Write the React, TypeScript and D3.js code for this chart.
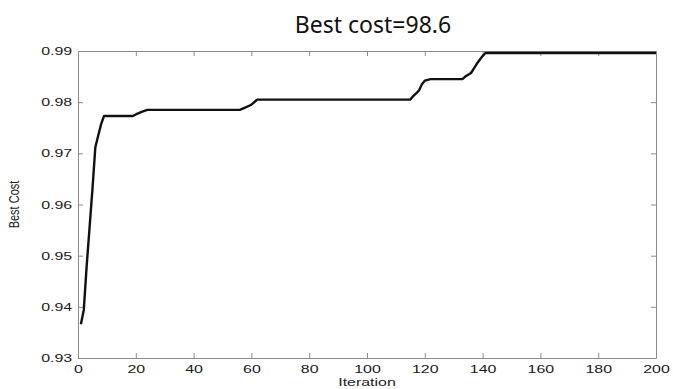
import React, { useEffect, useRef } from 'react';
import * as d3 from 'd3';

// values (iteration, best cost)
const iterations = [1, 2, 3, 4, 5, 6, 7, 8, 9, 19, 20, 22, 24, 56, 58, 60, 62, 115, 116, 117, 118, 119, 120, 122, 133, 134, 136, 137, 138, 139, 140, 141, 200];
const bestCost = [0.9366, 0.9394, 0.948, 0.9555, 0.963, 0.9712, 0.9735, 0.9757, 0.9773, 0.9773, 0.9776, 0.9781, 0.9785, 0.9785, 0.979, 0.9795, 0.9805, 0.9805, 0.9812, 0.9817, 0.9823, 0.9835, 0.9842, 0.9845, 0.9845, 0.985, 0.9857, 0.9866, 0.9875, 0.9883, 0.989, 0.9896, 0.9896];
const xTicks = [0, 20, 40, 60, 80, 100, 120, 140, 160, 180, 200];
const yTicks = [0.93, 0.94, 0.95, 0.96, 0.97, 0.98, 0.99];
const title = 'Best cost=98.6';
const xLabel = 'Iteration';
const yLabel = 'Best Cost';

const W = 673, H = 389;
const margin = { top: 51, right: 17, bottom: 31, left: 78 };
const stretch = 1.45;

export default function App() {
  const ref = useRef<SVGSVGElement>(null);

  useEffect(() => {
    const svg = d3.select(ref.current);
    svg.selectAll('*').remove();
    const w = W - margin.left - margin.right;
    const h = H - margin.top - margin.bottom;

    const x = d3.scaleLinear().domain([0, 200]).range([0, w]);
    const y = d3.scaleLinear().domain([0.93, 0.99]).range([h, 0]);

    svg.append('text')
      .attr('x', 373)
      .attr('y', 33)
      .attr('text-anchor', 'middle')
      .style('font-family', '"Noto Sans", "Open Sans", sans-serif')
      .style('font-size', '23px')
      .attr('fill', '#111')
      .text(title);

    const g = svg.append('g').attr('transform', `translate(${margin.left},${margin.top})`);

    const axisColor = '#8a8a8a';
    const styleAxis = (sel: any) => {
      sel.selectAll('.domain').attr('stroke', axisColor);
      sel.selectAll('.tick line').attr('stroke', axisColor);
      sel.selectAll('text')
        .attr('fill', '#1a1a1a')
        .style('font-family', '"Liberation Sans", Arial, sans-serif')
        .style('font-size', '11px')
        .attr('transform', `scale(${stretch},1)`);
    };

    g.append('g').attr('transform', `translate(0,${h})`)
      .call(d3.axisBottom(x).tickValues(xTicks).tickSizeInner(-5).tickSizeOuter(0).tickPadding(7))
      .call(styleAxis);
    g.append('g')
      .call(d3.axisLeft(y).tickValues(yTicks).tickFormat(d3.format('.2f')).tickSizeInner(-5).tickSizeOuter(0).tickPadding(4))
      .call(styleAxis);
    g.append('g')
      .call(d3.axisTop(x).tickValues(xTicks).tickSizeInner(-5).tickSizeOuter(0).tickFormat(() => ''))
      .call(styleAxis);
    g.append('g').attr('transform', `translate(${w},0)`)
      .call(d3.axisRight(y).tickValues(yTicks).tickSizeInner(-5).tickSizeOuter(0).tickFormat(() => ''))
      .call(styleAxis);

    const line = d3.line<number>()
      .x((_, i) => x(iterations[i]))
      .y((d) => y(d));

    g.append('path')
      .datum(bestCost)
      .attr('d', line)
      .attr('fill', 'none')
      .attr('stroke', '#111')
      .attr('stroke-width', 2.4)
      .attr('stroke-linejoin', 'round');

    svg.append('text')
      .attr('transform', `translate(${margin.left + w / 2},386) scale(${stretch},1)`)
      .attr('text-anchor', 'middle')
      .style('font-family', '"Liberation Sans", Arial, sans-serif')
      .style('font-size', '11px')
      .attr('fill', '#222')
      .text(xLabel);

    svg.append('text')
      .attr('transform', `translate(19,${margin.top + h / 2}) scale(1.3,1) rotate(-90)`)
      .attr('text-anchor', 'middle')
      .style('font-family', '"Liberation Sans", Arial, sans-serif')
      .style('font-size', '11px')
      .attr('fill', '#222')
      .text(yLabel);
  }, []);

  return (
    <svg ref={ref} width={W} height={H}
         style={{ position: 'absolute', left: 0, top: 0, background: '#fff' }} />
  );
}
